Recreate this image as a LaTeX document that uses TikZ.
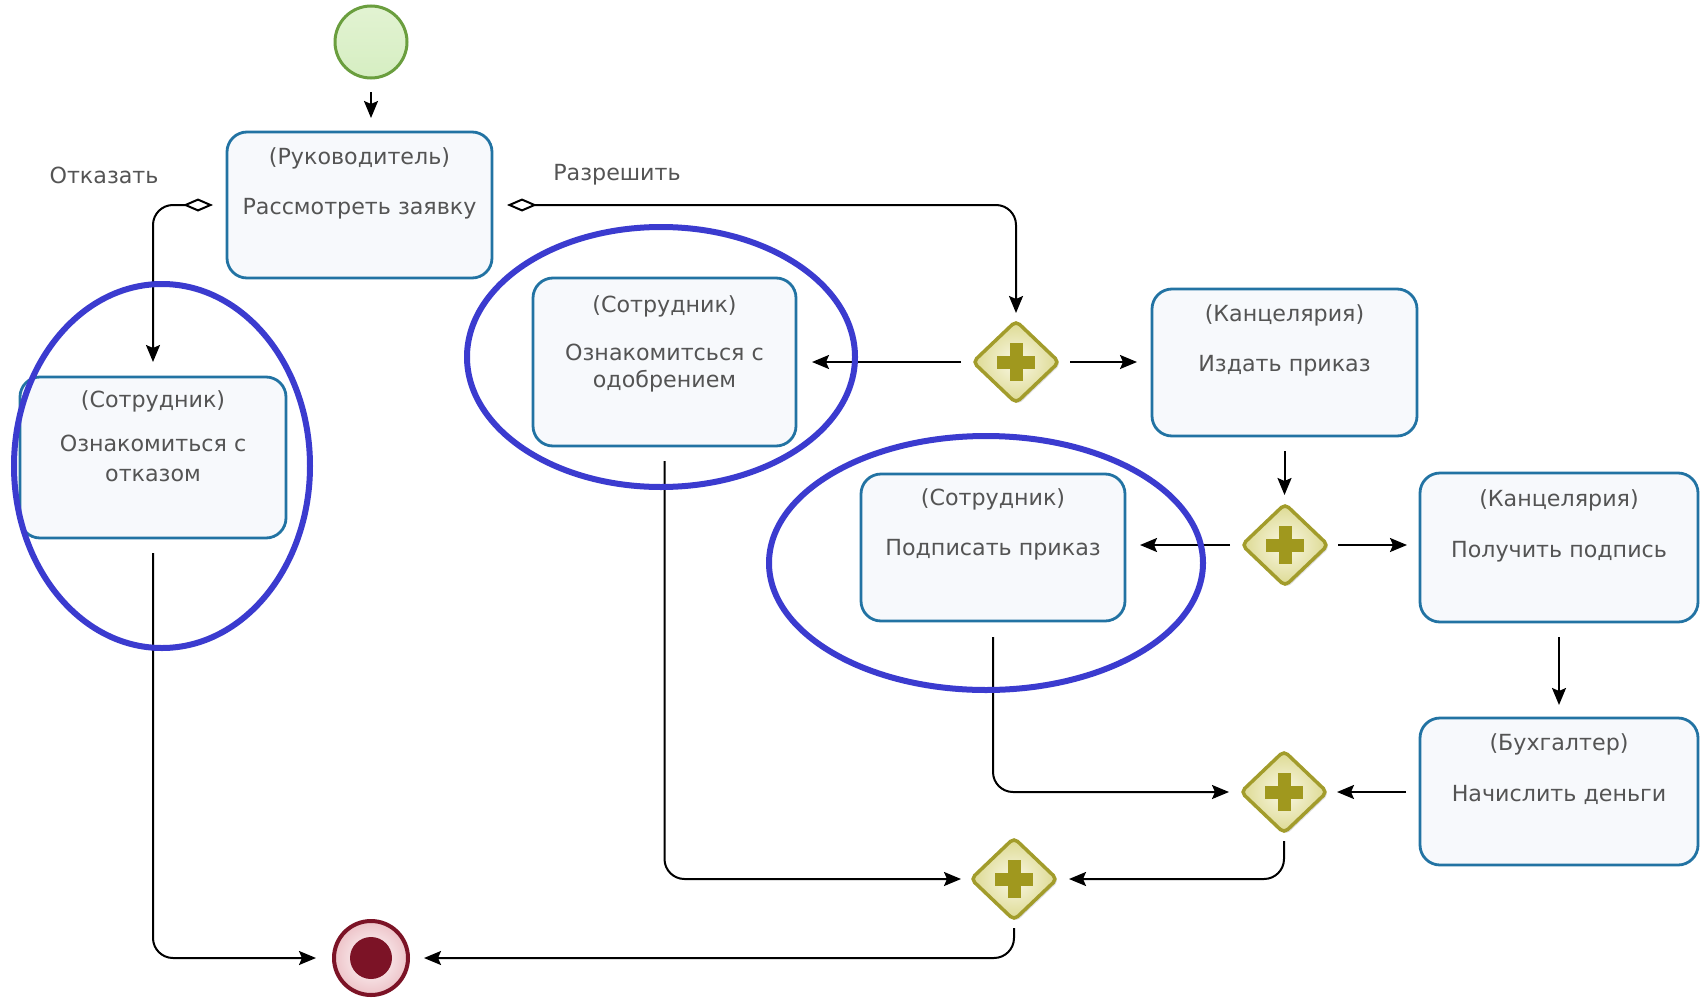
\documentclass[tikz,border=0pt]{standalone}
\usepackage{fontspec}
\setmainfont{DejaVu Sans}
\usetikzlibrary{arrows.meta,shapes.geometric,calc,shadows}
\definecolor{taskborder}{HTML}{2273A3}
\definecolor{taskfill}{HTML}{F7F9FC}
\definecolor{txtgray}{HTML}{545454}
\definecolor{ringblue}{HTML}{3B3BCF}
\definecolor{gwborder}{HTML}{A29C2B}
\definecolor{gwplus}{HTML}{A0981E}
\definecolor{gwlight}{HTML}{FAF8E6}
\definecolor{gwdark}{HTML}{DCD990}
\definecolor{startborder}{HTML}{6A9E3E}
\definecolor{starttop}{HTML}{E2F3D2}
\definecolor{startmid}{HTML}{A9D686}
\definecolor{startbot}{HTML}{D6EEC2}
\definecolor{endred}{HTML}{7C1326}
\definecolor{endpink}{HTML}{EDC3C8}
\begin{document}
\begin{tikzpicture}[x=1pt,y=-1pt,
  task/.style={draw=taskborder,line width=2.8pt,fill=taskfill,rounded corners=20pt,inner sep=0pt,outer sep=0pt},
  hdr/.style={text=txtgray,font=\fontsize{22.2}{26}\selectfont,inner sep=0pt,anchor=base},
  lbl/.style={text=txtgray,font=\fontsize{22.2}{26}\selectfont,inner sep=0pt},
  gw/.style={diamond,draw=gwborder,line width=3.5pt,inner color=gwlight,outer color=gwdark,
    minimum width=86pt,minimum height=82pt,inner sep=0pt,outer sep=0pt,rounded corners=5pt,
    drop shadow={shadow xshift=2pt,shadow yshift=-2pt,opacity=0.25}},
  flow/.style={draw=black,line width=2pt,rounded corners=20pt,-{Stealth[length=17pt,width=14pt,inset=3pt]}},
  deco/.style={{Diamond[open,length=30pt,width=13pt]}-{Stealth[length=17pt,width=14pt,inset=3pt]}},
  ring/.style={draw=ringblue,line width=6pt}]
\fill[white] (0,0) rectangle (1702,1001);
\useasboundingbox (0,0) rectangle (1702,1001);

% events
\node[circle,draw=startborder,line width=3pt,minimum size=72pt,inner sep=0pt,outer sep=0pt,
  top color=starttop,middle color=startmid,bottom color=startbot] (start) at (371,42) {};
\node[circle,draw=endred,line width=4pt,minimum size=74pt,inner sep=0pt,outer sep=0pt,
  inner color=white,outer color=endpink] (End) at (371,958) {};
\fill[endred] (End.center) circle (21pt);

% tasks
\node[task,minimum width=265pt,minimum height=146pt] (T1) at (359.5,205) {};
\node[task,minimum width=266pt,minimum height=161pt] (T2) at (153,457.5) {};
\node[task,minimum width=263pt,minimum height=168pt] (T3) at (664.5,362) {};
\node[task,minimum width=265pt,minimum height=147pt] (T4) at (1284.5,362.5) {};
\node[task,minimum width=264pt,minimum height=147pt] (T5) at (993,547.5) {};
\node[task,minimum width=278pt,minimum height=149pt] (T6) at (1559,547.5) {};
\node[task,minimum width=278pt,minimum height=147pt] (T7) at (1559,791.5) {};

% task texts
\node[hdr] (T1h) at ($(T1.north)+(0,32)$) {(Руководитель)};
\node[hdr] (T1m) at ($(T1.north)+(0,82)$) {Рассмотреть заявку};
\node[hdr] (T2h) at ($(T2.north)+(0,30)$) {(Сотрудник)};
\node[hdr] (T2m) at ($(T2.north)+(0,74)$) {Ознакомиться с};
\node[hdr] (T2n) at ($(T2.north)+(0,104)$) {отказом};
\node[hdr] (T3h) at ($(T3.north)+(0,34)$) {(Сотрудник)};
\node[hdr] (T3m) at ($(T3.north)+(0,82)$) {Ознакомитсься с};
\node[hdr] (T3n) at ($(T3.north)+(0,109)$) {одобрением};
\node[hdr] (T4h) at ($(T4.north)+(0,32)$) {(Канцелярия)};
\node[hdr] (T4m) at ($(T4.north)+(0,82)$) {Издать приказ};
\node[hdr] (T5h) at ($(T5.north)+(0,31)$) {(Сотрудник)};
\node[hdr] (T5m) at ($(T5.north)+(0,81)$) {Подписать приказ};
\node[hdr] (T6h) at ($(T6.north)+(0,33)$) {(Канцелярия)};
\node[hdr] (T6m) at ($(T6.north)+(0,84)$) {Получить подпись};
\node[hdr] (T7h) at ($(T7.north)+(0,32)$) {(Бухгалтер)};
\node[hdr] (T7m) at ($(T7.north)+(0,83)$) {Начислить деньги};

% gateways
\node[gw] (G1) at (1016,362) {};
\node[gw] (G2) at (1285,545) {};
\node[gw] (G3) at (1284,792) {};
\node[gw] (G4) at (1014,879) {};
\foreach \g in {G1,G2,G3,G4}{
  \fill[gwplus] ($(\g.center)+(-19,-6.5)$) rectangle ($(\g.center)+(19,6.5)$);
  \fill[gwplus] ($(\g.center)+(-6.5,-19)$) rectangle ($(\g.center)+(6.5,19)$);
}

% labels
\node[lbl] (Lno) at (104,175) {Отказать};
\node[lbl] (Lyes) at (617,175) {Разрешить};

% connectors
\draw[flow] ($(start.south)+(0,14)$) -- ($(start.south |- T1.north)+(0,-14)$);
\draw[flow,deco] ($(T1.west)+(-14,0)$) -| ($(T2.north)+(0,-15)$);
\draw[flow,deco] ($(T1.east)+(15,0)$) -| ($(G1.north)+(0,-8)$);
\draw[flow] ($(G1.west)+(-12,0)$) -- ($(G1.west -| T3.east)+(16,0)$);
\draw[flow] ($(G1.east)+(11,0)$) -- ($(G1.east -| T4.west)+(-15,0)$);
\draw[flow] ($(T4.south)+(0,15)$) -- ($(T4.south |- G2.north)+(0,-9)$);
\draw[flow] ($(G2.west)+(-12,0)$) -- ($(G2.west -| T5.east)+(15,0)$);
\draw[flow] ($(G2.east)+(10,0)$) -- ($(G2.east -| T6.west)+(-13,0)$);
\draw[flow] ($(T6.south)+(0,15)$) -- ($(T7.north)+(0,-13)$);
\draw[flow] ($(T7.west |- G3.east)+(-14,0)$) -- ($(G3.east)+(10,0)$);
\draw[flow] ($(T5.south)+(0,16)$) |- ($(G3.west)+(-12,0)$);
\draw[flow] ($(G3.south)+(0,8)$) |- ($(G4.east)+(12,0)$);
\draw[flow] ($(T3.south)+(0,15)$) |- ($(G4.west)+(-10,0)$);
\draw[flow] ($(G4.south)+(0,8)$) |- ($(End.east)+(16,0)$);
\draw[flow] ($(T2.south)+(0,15)$) |- ($(End.west)+(-18,0)$);

% hand-drawn highlight ellipses
\draw[ring] (162,466) ellipse [x radius=148pt,y radius=182pt];
\draw[ring] (661,357) ellipse [x radius=194pt,y radius=130pt];
\draw[ring] (986,563) ellipse [x radius=217pt,y radius=127pt];
\end{tikzpicture}
\end{document}
